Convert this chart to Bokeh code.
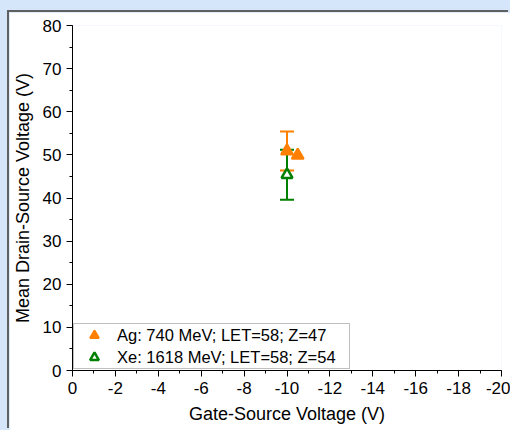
from bokeh.plotting import figure
from bokeh.models import (Range1d, SingleIntervalTicker, Whisker, ColumnDataSource,
                          Legend, LegendItem, TeeHead, GlobalInlineStyleSheet,
                          PrintfTickFormatter)
from bokeh.embed import file_html
from bokeh.resources import INLINE

# ---- data ----
ag_x = [-10.0, -10.5]
ag_y = [50.9, 49.9]
ag_err_x = [-10.0]
ag_err_y = [50.9]
ag_err = [4.5]

xe_x = [-10.0]
xe_y = [45.4]
xe_err = [5.8]

ag_label = "Ag: 740 MeV; LET=58; Z=47"
xe_label = "Xe: 1618 MeV; LET=58; Z=54"
x_label = "Gate-Source Voltage (V)"
y_label = "Mean Drain-Source Voltage (V)"

ORANGE = "#ff8000"
GREEN = "#008000"
FONT = "Liberation Sans"

CSS = ("html, body{background:#d5e6fb; overflow:hidden; scrollbar-width:none;}"
       "::-webkit-scrollbar{width:0px; height:0px; display:none;}")

p = figure(width=501, height=418, output_backend="svg", toolbar_location=None,
           x_range=Range1d(0, -20), y_range=Range1d(0, 80),
           min_border_left=62, min_border_right=9, min_border_top=13, min_border_bottom=60)
p.margin = (12, 0, 0, 9)
p.stylesheets = [GlobalInlineStyleSheet(css=CSS)]
p.styles = {"box-shadow": "-2px -2px 0px 0px #606060"}
p.background_fill_color = "white"
p.border_fill_color = "white"
p.outline_line_color = None
p.grid.visible = False

for ax in (p.xaxis[0], p.yaxis[0]):
    ax.major_label_text_font = FONT
    ax.major_label_text_font_size = "17px"
    ax.major_label_text_color = "black"
    ax.axis_label_text_font = FONT
    ax.axis_label_text_font_size = "18px"
    ax.axis_label_text_font_style = "normal"
    ax.axis_label_text_color = "black"
    ax.axis_line_color = "black"
    ax.major_tick_line_color = "black"
    ax.minor_tick_line_color = "black"
    ax.major_tick_in = 0
    ax.major_tick_out = 6
    ax.minor_tick_in = 0
    ax.minor_tick_out = 3
    ax.formatter = PrintfTickFormatter(format="%d")

p.xaxis[0].ticker = SingleIntervalTicker(interval=2, num_minor_ticks=2)
p.yaxis[0].ticker = SingleIntervalTicker(interval=10, num_minor_ticks=2)
p.xaxis[0].axis_label = x_label
p.yaxis[0].axis_label = y_label
p.xaxis[0].major_label_standoff = 5
p.xaxis[0].axis_label_standoff = 7
p.yaxis[0].major_label_standoff = 5
p.yaxis[0].axis_label_standoff = 7

# error bars
ag_src = ColumnDataSource(dict(x=ag_err_x, lo=[y - e for y, e in zip(ag_err_y, ag_err)],
                               hi=[y + e for y, e in zip(ag_err_y, ag_err)]))
xe_src = ColumnDataSource(dict(x=xe_x, lo=[y - e for y, e in zip(xe_y, xe_err)],
                               hi=[y + e for y, e in zip(xe_y, xe_err)]))

w_ag = Whisker(source=ag_src, base="x", lower="lo", upper="hi", dimension="height",
               line_color=ORANGE, line_width=2,
               upper_head=TeeHead(size=14, line_color=ORANGE, line_width=2),
               lower_head=TeeHead(size=14, line_color=ORANGE, line_width=2))
p.add_layout(w_ag)
r_ag = p.scatter(ag_x, ag_y, marker="triangle", size=12, fill_color=ORANGE,
                 line_color=ORANGE, line_width=2)

w_xe = Whisker(source=xe_src, base="x", lower="lo", upper="hi", dimension="height",
               line_color=GREEN, line_width=2,
               upper_head=TeeHead(size=14, line_color=GREEN, line_width=2),
               lower_head=TeeHead(size=14, line_color=GREEN, line_width=2))
p.add_layout(w_xe)
r_xe = p.scatter(xe_x, xe_y, marker="triangle", size=11, fill_color="white",
                 line_color=GREEN, line_width=2.5)

legend = Legend(items=[LegendItem(label=ag_label, renderers=[r_ag]),
                       LegendItem(label=xe_label, renderers=[r_xe])],
                location=(1, 1), orientation="vertical",
                glyph_width=40, glyph_height=22, label_height=22, spacing=0,
                padding=0, margin=0, label_standoff=3, label_width=232,
                label_text_font=FONT, label_text_font_size="16.5px", label_text_color="black",
                border_line_color="#7f7f7f", border_line_width=1,
                background_fill_color="white", background_fill_alpha=1)
p.add_layout(legend)

open("out.html", "w").write(file_html(p, INLINE))
